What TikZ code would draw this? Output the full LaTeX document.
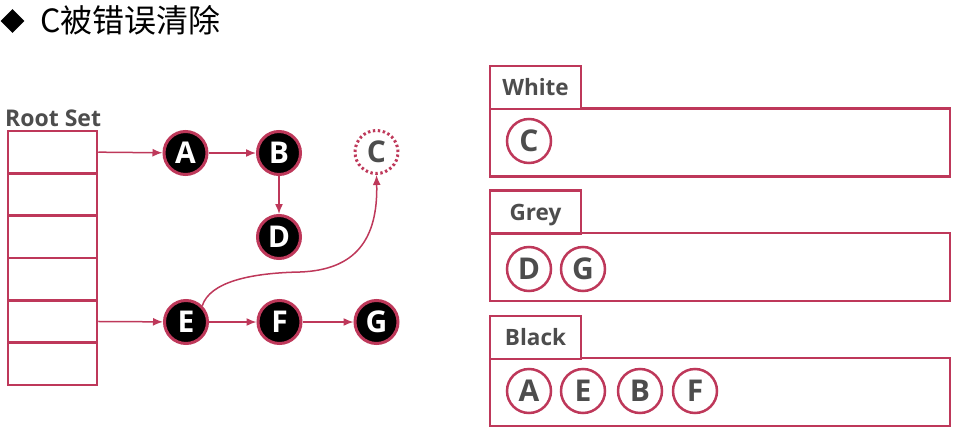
\documentclass[tikz,border=0pt]{standalone}
\usepackage{fontspec}
\setmainfont{Open Sans}
\newfontfamily\cjkfont{Noto Sans CJK SC}
\usepackage{tikz}
\usetikzlibrary{positioning,shapes.geometric,arrows.meta}
\definecolor{gcred}{RGB}{190,56,90}
\definecolor{gctext}{RGB}{77,77,77}

\begin{document}
\begin{tikzpicture}[x=1pt,y=-1pt,
    obj/.style={circle, draw=gcred, line width=3pt, fill=black, text=white,
      minimum size=43pt, inner sep=0pt, font=\fontsize{30}{30}\selectfont\bfseries},
    gone/.style={obj, fill=none, text=gctext, dash pattern=on 2.4pt off 2.6pt},
    chip/.style={circle, draw=gcred, line width=2.5pt, fill=white, text=gctext,
      minimum size=44pt, inner sep=0pt, font=\fontsize{30}{30}\selectfont\bfseries},
    cell/.style={draw=gcred, line width=2.5pt, minimum width=89pt,
      minimum height=42.33pt, inner sep=0pt},
    tab/.style={draw=gcred, line width=2.5pt, minimum width=91pt, minimum height=43pt,
      text=gctext, inner sep=0pt, text height=18pt, text depth=2pt,
      font=\fontsize{22.5}{22.5}\selectfont\bfseries},
    panel/.style={draw=gcred, line width=2.5pt, minimum width=460pt, minimum height=68pt},
    ref/.style={draw=gcred, line width=1.5pt, -{Latex[length=10pt,width=8pt]}}]
      \useasboundingbox (0,0) rectangle (956,431);
      % title
      \node[diamond, fill=black, minimum width=24pt, minimum height=24pt, inner sep=0pt] (bullet) at (12.5,21) {};
      \node[anchor=base west, inner sep=0pt, font=\cjkfont\fontsize{32}{32}\selectfont] (title) at (40,32) {C被错误清除};
      % root set
      \node[anchor=base west, inner sep=0pt, text=gctext, font=\fontsize{23}{23}\selectfont\bfseries] (rootlabel) at (5,126) {Root Set};
      \foreach \i in {0,...,5}
        \node[cell] (r\i) at (52.5, 152.17+\i*42.33) {};
      % objects
      \node[obj] (A) at (185.5,153) {A};
      \node[obj] (B) at (279,153) {B};
      \node[gone] (C) at (376.5,152) {C};
      \node[obj] (D) at (279,237) {D};
      \node[obj] (E) at (186,322) {E};
      \node[obj] (F) at (279.5,322) {F};
      \node[obj] (G) at (376.5,322) {G};
      \draw[ref] (r0.east) -- (A);
      \draw[ref] (A) -- (B);
      \draw[ref] (B) -- (D);
      \draw[ref] (r4.east) -- (E);
      \draw[ref] (E) -- (F);
      \draw[ref] (F) -- (G);
      \coordinate (bend) at (300,272);
      \draw[ref] (E.45) .. controls (210,282) and (250,273) .. (bend)
        .. controls (355,270) and (378,240) .. (C.south);
      % colour sets
      \node[panel] (whitebox) at (720,142.5) {};
      \node[tab, fill=white] (whitetab) at (535.5,87.5) {White};
      \node[chip] (wC) at (529,141) {C};
      \node[panel] (greybox) at (720,267) {};
      \node[tab, fill=white] (greytab) at (535.5,212) {Grey};
      \node[chip] (gD) at (529,269) {D};
      \node[chip] (gG) at (583,269) {G};
      \node[panel] (blackbox) at (720,392) {};
      \node[tab, fill=white] (blacktab) at (535.5,337.5) {Black};
      \node[chip] (bA) at (529,391) {A};
      \node[chip] (bE) at (583,391) {E};
      \node[chip] (bB) at (640,391) {B};
      \node[chip] (bF) at (695,391) {F};
\end{tikzpicture}
\end{document}
